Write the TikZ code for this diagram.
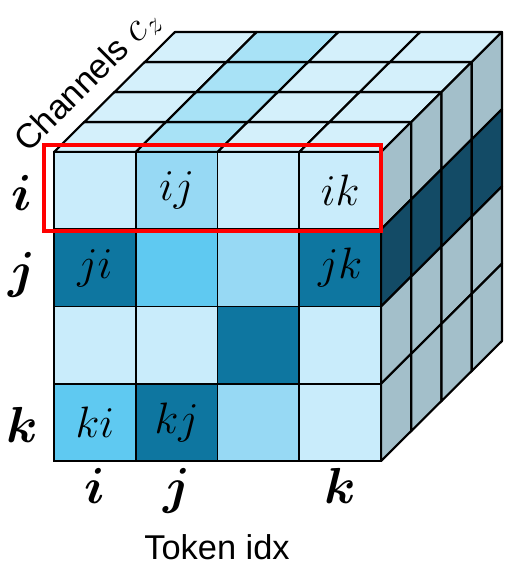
\RequirePackage{fix-cm}
\documentclass[tikz,border=0pt]{standalone}
\usepackage{amsmath,amssymb}
\usepackage{bm}
\usepackage{fontspec}
\setsansfont{Liberation Sans}
\usepackage{xcolor}
\usepackage{tikz}
\usetikzlibrary{positioning,calc}

\definecolor{cellL}{HTML}{C9ECFB}
\definecolor{cellB}{HTML}{97D9F4}
\definecolor{cellM}{HTML}{5FC9F1}
\definecolor{cellD}{HTML}{0E76A0}
\definecolor{topL}{HTML}{D4F0FB}
\definecolor{topD}{HTML}{A8E2F6}
\definecolor{sideL}{HTML}{A3BFCA}
\definecolor{sideD}{HTML}{134B66}

\begin{document}
\begin{tikzpicture}[
    x=0.75pt, y=-0.75pt,
    face/.style={draw=black, line width=1.6pt, line join=round},
    cell/.style={rectangle, draw=black, line width=1.4pt, minimum width=61.31pt, minimum height=57.94pt, inner sep=0pt, outer sep=0pt, font=\fontsize{33}{35}\selectfont},
    idxlab/.style={anchor=base, font=\fontsize{38}{40}\selectfont},
    axislab/.style={font=\sffamily\fontsize{25.8}{28}\selectfont},
    hilite/.style={draw=red, line width=3pt}
]
\useasboundingbox (0,0) rectangle (506,569);

% Top face
\foreach \c/\col in {0/topL,1/topD,2/topL,3/topL}
  \foreach \d in {0,...,3}
    \filldraw[face, fill=\col] ({54+81.75*\c+30.25*\d},{152-30*\d}) -- ++(81.75,0) -- ++(30.25,-30) -- ++(-81.75,0) -- cycle;

% Side face
\foreach \r/\col in {0/sideL,1/sideD,2/sideL,3/sideL}
  \foreach \d in {0,...,3}
    \filldraw[face, fill=\col] ({381+30.25*\d},{152+77.25*\r-30*\d}) -- ++(30.25,-30) -- ++(0,77.25) -- ++(-30.25,30) -- cycle;

% Front face
\foreach \r/\c/\col/\txt in {0/0/cellL/, 0/1/cellB/ij, 0/2/cellL/, 0/3/cellL/ik,
                             1/0/cellD/ji, 1/1/cellM/, 1/2/cellB/, 1/3/cellD/jk,
                             2/0/cellL/, 2/1/cellL/, 2/2/cellD/, 2/3/cellL/,
                             3/0/cellM/ki, 3/1/cellD/kj, 3/2/cellB/, 3/3/cellL/}
  \node[cell, fill=\col] (f\r\c) at ({94.875+81.75*\c},{190.625+77.25*\r}) {$\txt$};

% Highlighted row
\draw[hilite] ($(f00.north west)+(-10,-7)$) rectangle ($(f03.south east)+(0,2)$);

% Row indices
\node[idxlab] (ri) at (22,210) {$\bm{i}$};
\node[idxlab] (rj) at (22,287) {$\bm{j}$};
\node[idxlab] (rk) at (22,442) {$\bm{k}$};

% Column indices
\node[idxlab] (ci) at (f30.center |- 0,503) {$\bm{i}$};
\node[idxlab] (cj) at (f31.center |- 0,503) {$\bm{j}$};
\node[idxlab] (ck) at (f33.center |- 0,503) {$\bm{k}$};

% Axis names
\node[axislab] (token) at (217,547) {Token idx};
\node[axislab, rotate=45, anchor=base west] (channels) at (25,157) {Channels {\fontsize{31}{33}\selectfont$c_z$}};

\end{tikzpicture}
\end{document}
